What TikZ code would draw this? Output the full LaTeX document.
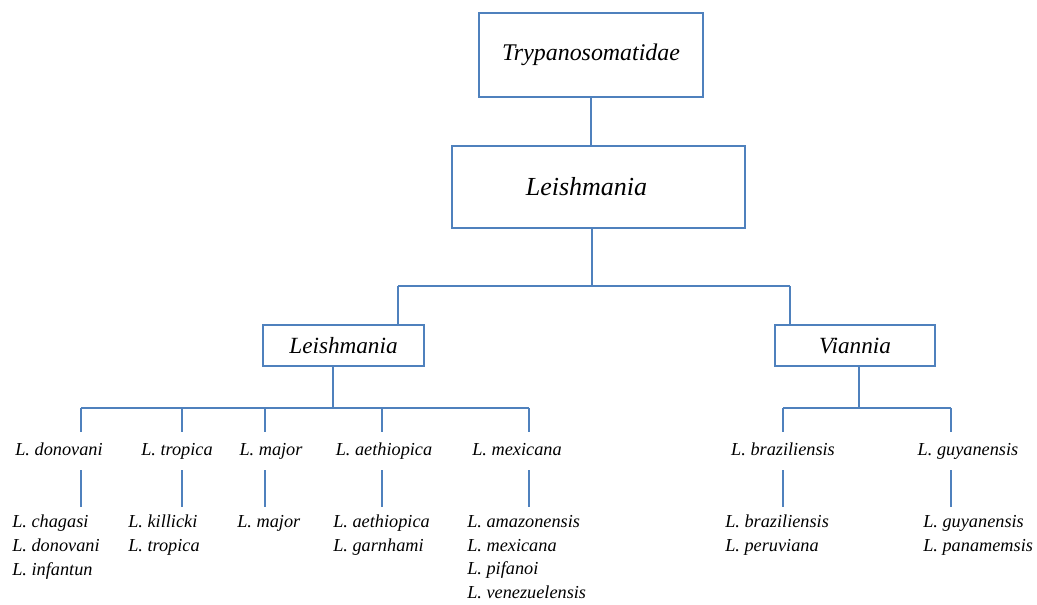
\documentclass[tikz,border=0pt]{standalone}
\usepackage{fontspec}
\setmainfont{Liberation Serif}
\definecolor{linkblue}{RGB}{79,129,189}
\tikzset{
	taxbox/.style={draw=linkblue, line width=0.9pt, inner sep=0pt, font=\itshape},
	link/.style={draw=linkblue, line width=0.8pt},
	species/.style={inner xsep=0pt, inner ysep=0pt, minimum height=0.95cm,
		text height=9pt, text depth=3pt,
		font=\itshape\fontsize{13}{17}\selectfont},
	sublist/.style={anchor=north west, align=left, inner xsep=0pt, inner ysep=5.5pt,
		font=\itshape\fontsize{13}{17}\selectfont},
}
\begin{document}
\begin{tikzpicture}[x=0.025cm,y=-0.025cm]
	\useasboundingbox (0,0) rectangle (1037,604);
	% family and genus
	\node[taxbox, minimum width=5.6cm, minimum height=2.1cm, font=\itshape\fontsize{17}{20}\selectfont] (trypano) at (591,55) {Trypanosomatidae};
	\node[taxbox, minimum width=7.325cm, minimum height=2.05cm, font=\itshape\fontsize{18.5}{22}\selectfont] (leish) at (598.5,187) {Leishmania\kern0.6cm};
	% the two subgenera
	\node[taxbox, minimum width=4.025cm, minimum height=1.025cm, font=\itshape\fontsize{16.5}{20}\selectfont] (subleish) at (343.5,345.5) {Leishmania};
	\node[taxbox, minimum width=4cm, minimum height=1.025cm, font=\itshape\fontsize{16.5}{20}\selectfont] (viannia) at (855,345.5) {Viannia};
	% complexes
	\node[species] (donovani) at (59,451) {L. donovani};
	\node[species] (tropica) at (177,451) {L. tropica};
	\node[species] (major) at (271,451) {L. major};
	\node[species] (aethiopica) at (384,451) {L. aethiopica};
	\node[species] (mexicana) at (517,451) {L. mexicana};
	\node[species] (braziliensis) at (783,451) {L. braziliensis};
	\node[species] (guyanensis) at (968,451) {L. guyanensis};
	% species of each complex
	\node[sublist] (donovaniList) at (12,507) {L. chagasi\\L. donovani\\L. infantun};
	\node[sublist] (tropicaList) at (128,507) {L. killicki\\L. tropica};
	\node[sublist] (majorList) at (237,507) {L. major};
	\node[sublist] (aethiopicaList) at (333,507) {L. aethiopica\\L. garnhami};
	\node[sublist] (mexicanaList) at (467,507) {L. amazonensis\\L. mexicana\\L. pifanoi\\L. venezuelensis};
	\node[sublist] (braziliensisList) at (725,507) {L. braziliensis\\L. peruviana};
	\node[sublist] (guyanensisList) at (923,507) {L. guyanensis\\L. panamemsis};
	% junctions
	\coordinate (jGenus) at (592,286);
	\coordinate (jLeish) at (398,286);
	\coordinate (jVian) at (790,286);
	\coordinate (kLeish) at (333,408);
	\coordinate (kVian) at (859,408);
	\coordinate (dDon) at (81,408);
	\coordinate (dTro) at (182,408);
	\coordinate (dMaj) at (265,408);
	\coordinate (dAet) at (382,408);
	\coordinate (dMex) at (529,408);
	\coordinate (dBra) at (783,408);
	\coordinate (dGuy) at (951,408);
	% family to genus to subgenera
	\draw[link] (trypano.south) -- (trypano.south |- leish.north);
	\draw[link] (jGenus |- leish.south) -- (jGenus);
	\draw[link] (jLeish) -- (jVian);
	\draw[link] (jLeish) -- (jLeish |- subleish.north);
	\draw[link] (jVian) -- (jVian |- viannia.north);
	% subgenus Leishmania
	\draw[link] (kLeish |- subleish.south) -- (kLeish);
	\draw[link] (dDon) -- (dMex);
	\draw[link] (dDon) -- (dDon |- donovani.north);
	\draw[link] (dTro) -- (dTro |- tropica.north);
	\draw[link] (dMaj) -- (dMaj |- major.north);
	\draw[link] (dAet) -- (dAet |- aethiopica.north);
	\draw[link] (dMex) -- (dMex |- mexicana.north);
	\draw[link] (dDon |- donovani.south) -- (dDon |- donovaniList.north);
	\draw[link] (dTro |- tropica.south) -- (dTro |- tropicaList.north);
	\draw[link] (dMaj |- major.south) -- (dMaj |- majorList.north);
	\draw[link] (dAet |- aethiopica.south) -- (dAet |- aethiopicaList.north);
	\draw[link] (dMex |- mexicana.south) -- (dMex |- mexicanaList.north);
	% subgenus Viannia
	\draw[link] (kVian |- viannia.south) -- (kVian);
	\draw[link] (dBra) -- (dGuy);
	\draw[link] (dBra) -- (dBra |- braziliensis.north);
	\draw[link] (dGuy) -- (dGuy |- guyanensis.north);
	\draw[link] (dBra |- braziliensis.south) -- (dBra |- braziliensisList.north);
	\draw[link] (dGuy |- guyanensis.south) -- (dGuy |- guyanensisList.north);
\end{tikzpicture}
\end{document}
